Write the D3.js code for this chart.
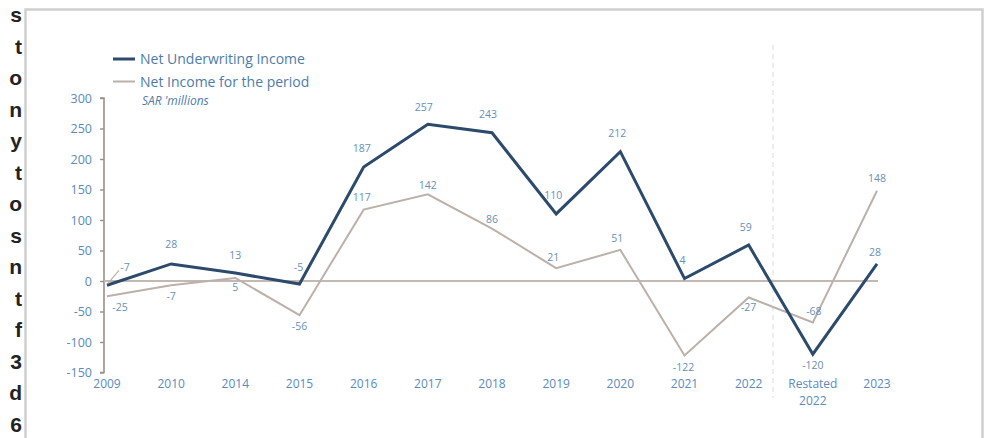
<!DOCTYPE html>
<html><head><meta charset="utf-8">
<script src="https://cdn.jsdelivr.net/npm/d3@7"></script>
<style>
html,body{margin:0;padding:0;background:#fff;}
svg{display:block;}
</style></head>
<body>
<svg id="c" width="986" height="438"></svg>
<script>
const categories = ["2009","2010","2014","2015","2016","2017","2018","2019","2020","2021","2022","Restated 2022","2023"];
const underwriting = [-7,28,13,-5,187,257,243,110,212,4,59,-120,28];
const netIncome = [-25,-7,5,-56,117,142,86,21,51,-122,-27,-68,148];
const yTicks = [-150,-100,-50,0,50,100,150,200,250,300];
const seriesNames = ["Net Underwriting Income","Net Income for the period"];
const unitLabel = "SAR 'millions";
const sideLetters = ["s","t","o","n","y","t","o","s","n","t","f","3","d","6"];

// label placement (layout only): offset of label centre from point, px
const uwLabelDy = [-18,-19,-18,-17,-18,-17,-18,-18,-18,-18,-18,11,-11];
const uwLabelDx = [18,0,0,-1,-2,-4,-4,-3,-3,-2,-3,0,-2];
const niLabelDy = [11,11,10,11,-12,-9,-9,-11,-11,12,10,-11,-12];
const niLabelDx = [13,0,0,0,-2,0,0,-3,-3,-1,0,1,0];

const svg = d3.select("#c");
const blueNavy = "#2b4a6c", taupe = "#bcb0aa", txt = "#5b8abb";
const font = "'Open Sans', 'Liberation Sans', sans-serif";

// left cropped text column
svg.append("g").selectAll("text").data(sideLetters).join("text")
  .attr("x", 22).attr("y", (d,i) => 22 + i*31.5)
  .attr("text-anchor","end").attr("font-family","'Liberation Sans', Arial, sans-serif")
  .attr("font-weight","bold").attr("font-size",21).attr("fill","#222").text(d=>d);

// frame
svg.append("path").attr("d","M25.5,450 V9.5 H982.5 V450")
  .attr("fill","none").attr("stroke","#cfcfcf").attr("stroke-width",2.5);

const x = d3.scalePoint().domain(categories).range([107, 877]);
const y = d3.scaleLinear().domain([-150, 300]).range([372.5, 98]);

// separator dashed line
svg.append("line").attr("x1",773).attr("x2",773).attr("y1",45).attr("y2",398)
  .attr("stroke","#e2e2e2").attr("stroke-width",1.2).attr("stroke-dasharray","5,4");

// y axis
const yAxis = d3.axisLeft(y).tickValues(yTicks).tickSize(4).tickPadding(8).tickFormat(d => String(d));
const ga = svg.append("g").attr("transform","translate(104,0)").call(yAxis);
ga.select(".domain").attr("stroke","#9b8f8a").attr("stroke-width",1.6).attr("d","M-4,98H0V372.5H-4");
ga.selectAll(".tick line").attr("stroke","#9b8f8a").attr("stroke-width",1.4);
ga.selectAll(".tick text").attr("fill",txt).attr("font-family",font).attr("font-size",12.5);

// zero line
svg.append("line").attr("x1",104).attr("x2",878).attr("y1",y(0)).attr("y2",y(0))
  .attr("stroke","#c4b8b2").attr("stroke-width",2);

// x labels (multi-word labels wrap onto separate text lines)
const gx = svg.append("g");
categories.forEach(c => {
  const parts = c.split(" ");
  parts.forEach((p,i) => gx.append("text").attr("x", x(c)).attr("y", 388 + i*16.5)
    .attr("text-anchor","middle").attr("fill",txt).attr("font-family",font)
    .attr("font-size",12).text(p));
});

const line = d3.line().x((d,i)=>x(categories[i])).y(d=>y(d));

svg.append("path").datum(netIncome).attr("d",line).attr("fill","none")
  .attr("stroke",taupe).attr("stroke-width",2).attr("stroke-linejoin","miter");
svg.append("path").datum(underwriting).attr("d",line).attr("fill","none")
  .attr("stroke",blueNavy).attr("stroke-width",3).attr("stroke-linejoin","miter");

// leader line for first underwriting label
svg.append("line").attr("x1",x(categories[0])+1).attr("y1",y(underwriting[0])-2)
  .attr("x2",x(categories[0])+12).attr("y2",y(underwriting[0])-15)
  .attr("stroke",taupe).attr("stroke-width",1.2);

const lblFont = 10.5;
svg.append("g").selectAll("text").data(underwriting).join("text")
  .attr("x",(d,i)=>x(categories[i])+uwLabelDx[i]).attr("y",(d,i)=>y(d)+uwLabelDy[i]+3.5)
  .attr("text-anchor","middle").attr("font-family",font).attr("font-size",lblFont)
  .attr("fill","#6790b8").text(d=>d);
svg.append("g").selectAll("text").data(netIncome).join("text")
  .attr("x",(d,i)=>x(categories[i])+niLabelDx[i]).attr("y",(d,i)=>y(d)+niLabelDy[i]+3.5)
  .attr("text-anchor","middle").attr("font-family",font).attr("font-size",lblFont)
  .attr("fill","#6790b8").text(d=>d);

// legend
const lg = svg.append("g");
[[blueNavy,3],[taupe,2]].forEach((s,i) => {
  lg.append("line").attr("x1",113).attr("x2",135).attr("y1",59+i*22.5).attr("y2",59+i*22.5)
    .attr("stroke",s[0]).attr("stroke-width",s[1]);
  lg.append("text").attr("x",140).attr("y",64+i*22.5).attr("font-family",font)
    .attr("font-size",14).attr("fill","#4d7cab").text(seriesNames[i]);
});
lg.append("text").attr("x",142).attr("y",105).attr("font-family",font).attr("font-style","italic")
  .attr("font-size",12).attr("fill","#4d7cab").text(unitLabel);
</script>
</body></html>
